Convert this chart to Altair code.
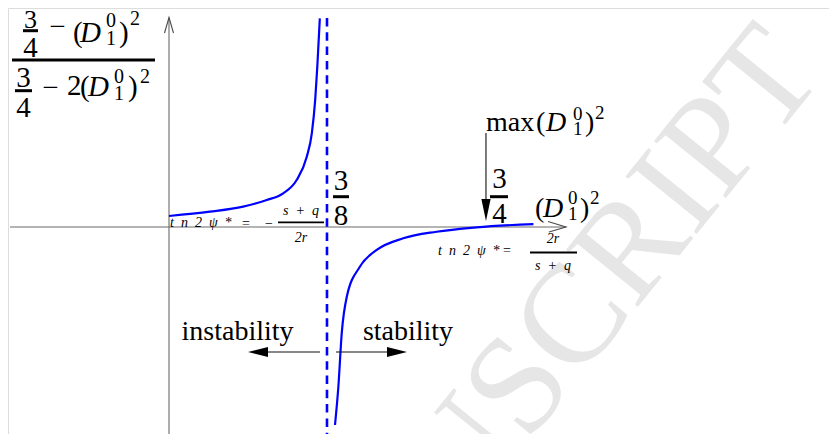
import altair as alt
import pandas as pd

# ---- data ----
# x: (D_1^0)^2 ; y: (3/4-(D)^2)/(3/4-2(D)^2) (schematic units)
left_x = [0.000, 0.097, 0.176, 0.232, 0.271, 0.303, 0.327, 0.339, 0.347, 0.352, 0.358]
left_y = [1.00, 1.39, 1.85, 2.45, 3.06, 4.27, 6.39, 8.52, 11.55, 14.57, 18.97]
right_x = [0.394, 0.402, 0.410, 0.422, 0.453, 0.493, 0.556, 0.635, 0.730, 0.865]
right_y = [-18.0, -14.52, -9.66, -6.34, -3.61, -2.09, -1.03, -0.43, -0.03, 0.27]
asymptote_x = [0.375]
max_x = [0.75]

# ---- layout (diagram frame) ----
W, H = 821, 426
PX0, PXU = 169, 421.3   # page px of x=0, px per x unit
PY0, PYU = 227, 11.0    # page px of y=0, px per y unit
XMIN, XMAX = (8 - PX0) / PXU, (8 + W - PX0) / PXU
YMAX, YMIN = (PY0 - 8) / PYU, (PY0 - 8 - H) / PYU


def X(px):
    return (px - PX0) / PXU


def Y(py):
    return (PY0 - py) / PYU


xs = alt.Scale(domain=[XMIN, XMAX], nice=False, zero=False)
ys = alt.Scale(domain=[YMIN, YMAX], nice=False, zero=False)


def ex(f="x"):
    return alt.X(f"{f}:Q", scale=xs, axis=None)


def ey(f="y"):
    return alt.Y(f"{f}:Q", scale=ys, axis=None)


layers = []

# watermark
wm = pd.DataFrame({"x": [X(509)], "y": [Y(399)], "t": ["MANUSCRIPT"]})
layers.append(alt.Chart(wm).mark_text(font="Liberation Serif", fontSize=140, angle=309,
                                      color="#e6e6e6", align="center", baseline="middle")
              .encode(x=ex(), y=ey(), text="t:N"))

# coordinate axes
axes_h = pd.DataFrame({"x": [X(10)], "x2": [X(566)], "y": [0.0]})
axes_v = pd.DataFrame({"x": [0.0], "y": [Y(17.5)], "y2": [Y(440)]})
layers.append(alt.Chart(axes_h).mark_rule(color="#6a6a6a", strokeWidth=1.1)
              .encode(x=ex(), x2="x2:Q", y=ey()))
layers.append(alt.Chart(axes_v).mark_rule(color="#6a6a6a", strokeWidth=1.1)
              .encode(x=ex(), y=ey(), y2="y2:Q"))
heads = pd.DataFrame({
    "g": ["v", "v", "v", "h", "h", "h"],
    "o": [0, 1, 2, 0, 1, 2],
    "x": [X(164.5), 0.0, X(173.5), X(548), X(566), X(549)],
    "y": [Y(33), Y(17.5), Y(33), Y(221.5), 0.0, Y(232)],
})
layers.append(alt.Chart(heads).mark_line(color="#4a4a4a", strokeWidth=1.1)
              .encode(x=ex(), y=ey(), detail="g:N", order="o:Q"))

# asymptote
asy = pd.DataFrame({"x": asymptote_x, "y": [Y(18)], "y2": [Y(442)]})
layers.append(alt.Chart(asy).mark_rule(color="#0000ff", strokeWidth=2.6, strokeDash=[8.5, 5.8])
              .encode(x=ex(), y=ey(), y2="y2:Q"))

# curve branches
curve = pd.DataFrame({
    "x": left_x + right_x,
    "y": left_y + right_y,
    "branch": ["left"] * len(left_x) + ["right"] * len(right_x),
})
layers.append(alt.Chart(curve).mark_line(color="#0000ff", strokeWidth=2.2, interpolate="monotone")
              .encode(x=ex(), y=ey(), detail="branch:N", order="x:Q"))

# arrow shafts
shafts = pd.DataFrame({
    "x": [X(266), X(336), max_x[0] + X(486) - X(485)],
    "x2": [X(320), X(388), max_x[0] + X(486) - X(485)],
    "y": [Y(352), Y(352), Y(133)],
    "y2": [Y(352), Y(352), Y(200)],
})
layers.append(alt.Chart(shafts).mark_rule(color="#111111", strokeWidth=1.1)
              .encode(x=ex(), x2="x2:Q", y=ey(), y2="y2:Q"))
# arrow heads (filled)
ah = pd.DataFrame({
    "x": [X(258), X(397), X(486)],
    "y": [Y(352), Y(352), Y(210)],
    "shape": ["M -1 0 L 1 -0.5 L 1 0.5 Z", "M 1 0 L -1 -0.5 L -1 0.5 Z", "M 0 1 L -0.42 -1 L 0.42 -1 Z"],
    "s": [400, 400, 484],
})
layers.append(alt.Chart(ah).mark_point(filled=True, color="black", opacity=1, strokeWidth=0)
              .encode(x=ex(), y=ey(), shape=alt.Shape("shape:N", scale=None),
                      size=alt.Size("s:Q", scale=None)))

# fraction bars
bars = pd.DataFrame([
    (23, 38, 30.7, 3), (12, 155, 60, 3), (15, 32, 90.7, 3),
    (490, 508, 196.7, 3), (333, 349, 196.7, 3),
    (278, 324, 222.3, 1.8), (530, 577, 252.5, 1.8),
], columns=["a", "b", "c", "w"])
bars = pd.DataFrame({"x": bars.a.map(X), "x2": bars.b.map(X), "y": bars.c.map(Y), "w": bars.w})
layers.append(alt.Chart(bars).mark_rule(color="black")
              .encode(x=ex(), x2="x2:Q", y=ey(), strokeWidth=alt.StrokeWidth("w:Q", scale=None)))

# text labels
EN = "\u2002"
rows = []


def T(px, py, s, size, it=False, al="left"):
    rows.append({"x": X(px), "y": Y(py), "t": s, "size": size, "it": it, "al": al})


# big fraction (top left)
T(30.5, 27.5, "3", 26, al="center"); T(30.5, 57, "4", 29, al="center")
T(57.5, 36, "\u2212", 29, al="center")
T(73, 42, "(", 29); T(80, 42, "D", 29, True)
T(106, 27, "0", 20); T(106, 45, "1", 20)
T(119, 42, ")", 29); T(130, 25, "2", 20)
T(23.5, 87, "3", 29, al="center"); T(23.5, 117, "4", 29, al="center")
T(50.5, 97, "\u2212", 29, al="center")
T(67, 95, "2", 29)
T(80, 96, "(", 29); T(88, 96, "D", 29, True)
T(114, 83, "0", 20); T(114, 100, "1", 20)
T(128, 96, ")", 29); T(140, 83, "2", 20)
# max label
T(486, 131, "max", 28); T(536, 131, "(", 28); T(546, 131, "D", 28, True)
T(573, 120, "0", 19); T(573, 135, "1", 19)
T(585, 131, ")", 28); T(595, 119, "2", 19)
# 3/4 and (D)^2 on axis
T(499.5, 188, "3", 29, al="center"); T(499.5, 223, "4", 29, al="center")
T(535, 217, "(", 28); T(543, 217, "D", 28, True)
T(568, 204, "0", 19); T(568, 220, "1", 19)
T(580, 217, ")", 28); T(590, 204, "2", 19)
# 3/8
T(341, 190, "3", 29, al="center"); T(341, 225, "8", 29, al="center")
# small formulas
T(170, 227, EN.join(["t", "n", "2", "\u03c8", "*"]), 14, True)
T(242, 228, "=", 14); T(265, 228, "\u2212", 14)
T(301, 215, "s" + EN + "+" + EN + "q", 14, True, "center")
T(301, 242, "2r", 14, True, "center")
T(438, 255, EN.join(["t", "n", "2", "\u03c8", "*"]), 14, True)
T(503, 255, "=", 14)
T(553, 243, "2r", 14, True, "center")
T(553, 270, "s" + EN + "+" + EN + "q", 14, True, "center")
# regions
T(237.5, 340, "instability", 28, al="center")
T(408, 340, "stability", 28, al="center")

tdf = pd.DataFrame(rows)
for it in [False, True]:
    for al in ["left", "center"]:
        sub = tdf[(tdf.it == it) & (tdf.al == al)]
        if len(sub) == 0:
            continue
        layers.append(alt.Chart(sub).mark_text(font="Liberation Serif",
                                               fontStyle="italic" if it else "normal",
                                               align=al, baseline="alphabetic", color="black")
                      .encode(x=ex(), y=ey(), text="t:N", size=alt.Size("size:Q", scale=None)))

chart = alt.layer(*layers).properties(
    width=W, height=H, padding=0,
    autosize=alt.AutoSizeParams(type="none"),
).configure_view(stroke=None).configure(background="white")

chart.save("out.html", embed_options={"renderer": "svg", "actions": False})
